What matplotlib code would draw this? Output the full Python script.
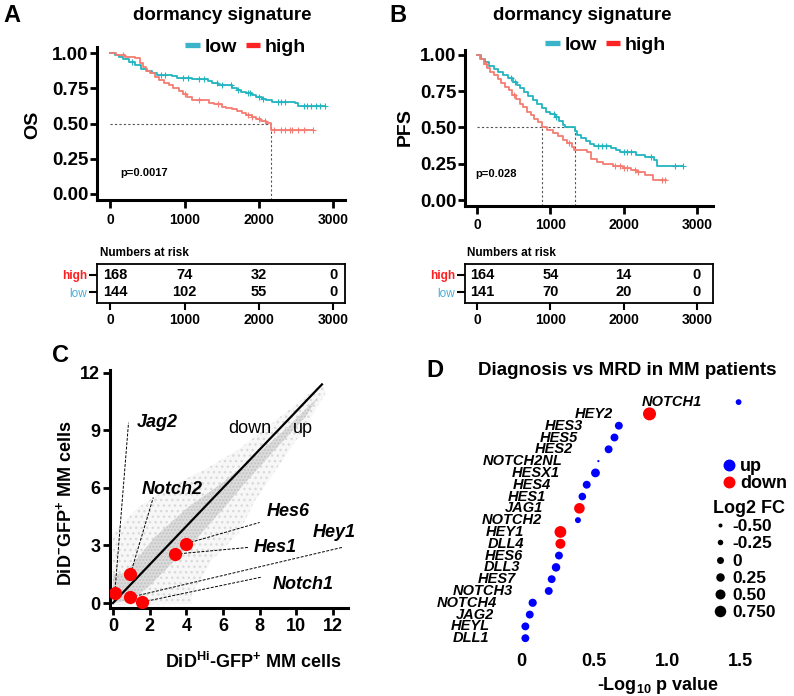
import numpy as np
import matplotlib
matplotlib.use("Agg")
import matplotlib.pyplot as plt
from matplotlib.lines import Line2D

plt.rcParams['font.family'] = ['Liberation Sans', 'DejaVu Sans']
plt.rcParams['font.weight'] = 'bold'
plt.rcParams['mathtext.fontset'] = 'custom'
plt.rcParams['mathtext.rm'] = 'Liberation Sans:bold'
plt.rcParams['mathtext.bf'] = 'Liberation Sans:bold'
plt.rcParams['hatch.linewidth'] = 1.0

# ---- panel A: OS Kaplan-Meier (days) ----
os_low_t = [0, 60, 120, 180, 250, 330, 420, 500, 560, 630, 830, 900, 1100, 1320, 1370, 1450,
            1550, 1640, 1700, 1760, 1820, 1900, 1960, 2040, 2100, 2180, 2480, 2530]
os_low_s = [1.0, 0.985, 0.97, 0.955, 0.935, 0.915, 0.89, 0.875, 0.86, 0.845, 0.835, 0.825, 0.815, 0.80,
            0.785, 0.775, 0.77, 0.755, 0.74, 0.725, 0.715, 0.70, 0.69, 0.675, 0.665, 0.655, 0.645, 0.625]
os_low_end = 2880
os_low_cens = [300, 680, 740, 980, 1050, 1200, 1260, 1430, 1500, 1620, 1720, 1850, 1880, 2000,
               2060, 2250, 2300, 2350, 2600, 2650, 2700, 2760, 2820, 2880]
os_high_t = [0, 80, 200, 330, 400, 440, 480, 540, 600, 660, 720, 790, 850, 920, 980, 1040, 1100,
             1330, 1400, 1500, 1560, 1640, 1700, 1770, 1830, 1900, 1960, 2030, 2100, 2160]
os_high_s = [1.0, 0.985, 0.975, 0.965, 0.93, 0.9, 0.875, 0.855, 0.83, 0.81, 0.79, 0.77, 0.75, 0.73,
             0.71, 0.69, 0.665, 0.645, 0.635, 0.62, 0.61, 0.60, 0.59, 0.575, 0.56, 0.545, 0.53,
             0.515, 0.505, 0.455]
os_high_end = 2730
os_high_cens = [180, 1000, 1200, 1450, 1850, 1900, 2000, 2080, 2200, 2300, 2350, 2420, 2450, 2520,
                2600, 2730]
os_medians = [2160]
os_risk_high = [168, 74, 32, 0]
os_risk_low = [144, 102, 55, 0]
os_p = "p=0.0017"

# ---- panel B: PFS Kaplan-Meier (days) ----
pfs_low_t = [0, 50, 110, 170, 230, 290, 350, 420, 490, 540, 590, 640, 700, 760, 820, 880, 940, 1000,
             1060, 1120, 1170, 1200, 1330, 1370, 1420, 1480, 1540, 1600, 1830, 1900, 1950, 2170,
             2290, 2420, 2450]
pfs_low_s = [1.0, 0.975, 0.95, 0.925, 0.905, 0.88, 0.86, 0.84, 0.815, 0.79, 0.77, 0.745, 0.72, 0.69,
             0.665, 0.635, 0.61, 0.59, 0.57, 0.545, 0.52, 0.5, 0.475, 0.45, 0.43, 0.405, 0.385,
             0.375, 0.36, 0.345, 0.33, 0.31, 0.295, 0.275, 0.235]
pfs_low_end = 2810
pfs_low_cens = [470, 520, 1050, 1080, 1650, 1700, 1760, 2000, 2050, 2100, 2380, 2700, 2810]
pfs_high_t = [0, 40, 90, 140, 180, 230, 280, 330, 380, 430, 480, 530, 580, 630, 680, 730, 780, 830,
              880, 960, 1040, 1100, 1170, 1230, 1290, 1320, 1500, 1560, 1640, 1720, 1850, 1990,
              2100, 2180, 2290, 2400]
pfs_high_s = [1.0, 0.97, 0.94, 0.91, 0.885, 0.86, 0.835, 0.81, 0.78, 0.755, 0.725, 0.695, 0.665,
              0.64, 0.61, 0.585, 0.56, 0.535, 0.5, 0.48, 0.465, 0.44, 0.415, 0.39, 0.365, 0.345,
              0.33, 0.28, 0.265, 0.25, 0.235, 0.22, 0.205, 0.19, 0.17, 0.14]
pfs_high_end = 2580
pfs_high_cens = [120, 500, 1250, 1880, 1950, 2010, 2040, 2150, 2200, 2530, 2560]
pfs_medians = [880, 1330]
pfs_risk_high = [164, 54, 14, 0]
pfs_risk_low = [141, 70, 20, 0]
pfs_p = "p=0.028"

risk_times = [0, 1000, 2000, 3000]

# ---- panel C: scatter of expression ----
# outline of the grey gene cloud (sparse part and dense band)
cloud_outer_x = [0, 0, 1.4, 3.2, 5.0, 6.85, 8.65, 10.5, 11.4, 11.6, 10.5, 9.0, 7.75, 6.85, 5.4,
                 4.3, 4.3, 0]
cloud_outer_y = [-0.1, 3.6, 5.0, 6.1, 6.95, 8.0, 9.35, 10.75, 11.45, 10.95, 9.2, 7.1, 5.35, 3.65,
                 2.25, 0.5, -0.05, -0.1]
cloud_core_x = [0, 0, 0.65, 2.3, 4.1, 5.95, 7.75, 9.55, 11.2, 10.5, 8.65, 7.2, 5.95, 4.65, 3.2,
                1.95, 1.0, 0]
cloud_core_y = [0, 1.5, 1.55, 3.45, 5.0, 6.25, 7.65, 9.2, 10.75, 9.7, 7.8, 6.25, 4.85, 3.45, 2.05,
                0.85, 0.15, 0]
c_genes = ["Jag2", "Notch2", "Hes6", "Hes1", "Hey1", "Notch1"]
c_dih = [0.1, 0.95, 4.0, 3.4, 0.95, 1.6]
c_dineg = [0.5, 1.5, 3.1, 2.55, 0.3, 0.05]
c_leader_end = [(0.85, 9.4), (2.2, 5.5), (8.0, 4.2), (7.4, 2.9), (12.5, 2.9), (8.1, 1.35)]
c_label_pos = [(1.3, 9.4), (1.55, 5.9), (8.4, 4.75), (7.65, 2.9), (10.9, 3.7), (8.7, 0.95)]

# ---- panel D: Diagnosis vs MRD ----
d_genes = ["NOTCH1", "HEY2", "HES3", "HES5", "HES2", "NOTCH2NL", "HESX1", "HES4", "HES1", "JAG1",
           "NOTCH2", "HEY1", "DLL4", "HES6", "DLL3", "HES7", "NOTCH3", "NOTCH4", "JAG2", "HEYL",
           "DLL1"]
d_logp = [1.49, 0.88, 0.67, 0.64, 0.60, 0.53, 0.51, 0.45, 0.42, 0.40, 0.39, 0.27, 0.27, 0.26,
          0.24, 0.21, 0.19, 0.08, 0.06, 0.03, 0.03]
d_fc = [-0.2, 1.0, 0.15, 0.15, 0.15, -0.8, 0.3, 0.15, 0.1, 0.6, -0.17, 0.8, 0.5, 0.15, 0.25, 0.15,
        0.15, 0.2, 0.15, 0.15, 0.15]
d_dir = ["up", "down", "up", "up", "up", "up", "up", "up", "up", "down", "up", "down", "down", "up",
         "up", "up", "up", "up", "up", "up", "up"]
fc_legend = [-0.5, -0.25, 0, 0.25, 0.5, 0.75]
fc_legend_labels = ["-0.50", "-0.25", "0", "0.25", "0.50", "0.750"]

TEAL = '#22b5bf'
SALMON = '#f47c72'
TEAL_KEY = '#3bb3c9'
RED_KEY = '#ff2424'

W, H = 794, 696
fig = plt.figure(figsize=(W / 100, H / 100), dpi=100)


def rect(l, t, r, b):
    return [l / W, 1 - b / H, (r - l) / W, (b - t) / H]


def fpos(x, y):
    return x / W, 1 - y / H


def step_value(t, s, when):
    idx = np.searchsorted(t, when, side='right') - 1
    return np.asarray(s)[idx]


def km_panel(box, xlim, ylim, curves, medians, ylabel, ylabel_xy, ptext, p_xy):
    ax = fig.add_axes(rect(*box))
    for t, s, end, cens, color in curves:
        ax.step(list(t) + [end], list(s) + [s[-1]], where='post', color=color, lw=1.3, zorder=3)
        ax.plot(cens, step_value(t, s, cens), ls='none', marker='+', ms=4, mew=0.8,
                color=color, zorder=3)
    ax.plot([0, max(medians)], [0.5, 0.5], ls=(0, (2, 2)), color='#555555', lw=0.8, zorder=2)
    for m in medians:
        ax.plot([m, m], [ylim[0], 0.5], ls=(0, (2, 2)), color='#555555', lw=0.8, zorder=2)
    ax.set_xlim(*xlim)
    ax.set_ylim(*ylim)
    ax.set_yticks([0, 0.25, 0.5, 0.75, 1.0])
    ax.set_yticklabels(['0.00', '0.25', '0.50', '0.75', '1.00'])
    ax.set_xticks(risk_times)
    ax.spines[['top', 'right']].set_visible(False)
    for sp in ('left', 'bottom'):
        ax.spines[sp].set_linewidth(2.2)
    ax.tick_params(axis='y', labelsize=13.5, width=2, length=5, pad=1)
    ax.tick_params(axis='x', labelsize=10, width=2, length=6, pad=3)
    fig.text(*fpos(*ylabel_xy), ylabel, rotation=90, ha='center', va='center', fontsize=14,
             fontweight='bold')
    fig.text(*fpos(*p_xy), ptext, ha='left', va='center', fontsize=8, fontweight='bold')
    return ax


def risk_table(box, xlim, high, low, title_xy):
    ax = fig.add_axes(rect(*box))
    ax.set_xlim(*xlim)
    ax.set_ylim(-0.6, 1.6)
    for i, (h, l) in enumerate(zip(high, low)):
        ha = 'left' if i == 0 else 'center'
        dx = -5 if i == 0 else 0
        ax.annotate(str(h), (risk_times[i], 1), xytext=(dx, 0), textcoords='offset points',
                    ha=ha, va='center', fontsize=10.5, fontweight='bold')
        ax.annotate(str(l), (risk_times[i], 0), xytext=(dx, 0), textcoords='offset points',
                    ha=ha, va='center', fontsize=10.5, fontweight='bold')
    ax.set_xticks(risk_times)
    ax.set_yticks([1, 0])
    ax.set_yticklabels(['high', 'low'])
    labs = ax.get_yticklabels()
    labs[0].set_color('#ff1f1f')
    labs[1].set_color('#4aaed4')
    labs[1].set_fontweight('normal')
    for sp in ax.spines.values():
        sp.set_linewidth(1.3)
    ax.tick_params(axis='y', labelsize=8.5, width=1.5, length=6, pad=1)
    ax.tick_params(axis='x', labelsize=10, width=1.5, length=5, pad=2)
    fig.text(*fpos(*title_xy), "Numbers at risk", ha='left', va='center', fontsize=8.5,
             fontweight='bold')


def km_key(x, y):
    handles = [Line2D([], [], color=TEAL_KEY, lw=3.8, solid_capstyle='butt'),
               Line2D([], [], color=RED_KEY, lw=3.8, solid_capstyle='butt')]
    fig.legend(handles, ['low', 'high'], loc='center left', bbox_to_anchor=fpos(x, y), ncol=2,
               frameon=False, handlelength=0.75, handletextpad=0.25,
               columnspacing=0.45, borderpad=0, borderaxespad=0,
               prop={'weight': 'bold', 'size': 14})


# panel A
km_panel((97, 47, 345, 200), (-175, 3155), (-0.043, 1.043),
         [(os_low_t, os_low_s, os_low_end, os_low_cens, TEAL),
          (os_high_t, os_high_s, os_high_end, os_high_cens, SALMON)],
         os_medians, 'OS', (33, 125), os_p, (120, 173))
risk_table((97, 264, 345, 303), (-175, 3155), os_risk_high, os_risk_low, (100, 253))
km_key(185, 47)
fig.text(*fpos(222, 15), 'dormancy signature', ha='center', va='center', fontsize=13.5,
         fontweight='bold')
fig.text(*fpos(12, 15), 'A', ha='center', va='center', fontsize=17, fontweight='bold')

# panel B
km_panel((465, 50, 713, 206), (-164, 3219), (-0.041, 1.034),
         [(pfs_low_t, pfs_low_s, pfs_low_end, pfs_low_cens, TEAL),
          (pfs_high_t, pfs_high_s, pfs_high_end, pfs_high_cens, SALMON)],
         pfs_medians, 'PFS', (405, 127), pfs_p, (475, 174))
risk_table((465, 264, 713, 303), (-164, 3219), pfs_risk_high, pfs_risk_low, (467, 253))
km_key(545, 45)
fig.text(*fpos(582, 15), 'dormancy signature', ha='center', va='center', fontsize=13.5,
         fontweight='bold')
fig.text(*fpos(398, 15), 'B', ha='center', va='center', fontsize=17, fontweight='bold')

# panel C
axc = fig.add_axes(rect(110, 370, 348, 608))
axc.fill(cloud_outer_x, cloud_outer_y, facecolor='#f7f7f7', edgecolor='#dadada', lw=0,
         hatch='...', zorder=1)
axc.fill(cloud_core_x, cloud_core_y, facecolor='#dcdcdc', edgecolor='#c2c2c2', lw=0,
         hatch='.....', zorder=1)
axc.plot([0, 11.4], [0, 11.4], color='black', lw=1.6, zorder=2)
for (gx, gy), (ex, ey), (lx, ly), name in zip(zip(c_dih, c_dineg), c_leader_end, c_label_pos,
                                              c_genes):
    axc.plot([gx, ex], [gy, ey], ls=(0, (3, 1.5)), color='black', lw=0.7, zorder=3)
    axc.text(lx, ly, name, ha='left', va='center', fontsize=13, fontweight='bold',
             style='italic', zorder=5)
axc.plot(c_dih, c_dineg, ls='none', marker='o', ms=9.5, color='#ff0000', mec='none', zorder=4)
axc.text(6.3, 9.1, 'down', ha='left', va='center', fontsize=13, fontweight='normal')
axc.text(9.8, 9.1, 'up', ha='left', va='center', fontsize=13, fontweight='normal')
axc.set_xlim(-0.16, 12.82)
axc.set_ylim(-0.26, 12.15)
axc.set_xticks([0, 2, 4, 6, 8, 10, 12])
axc.set_yticks([0, 3, 6, 9, 12])
axc.spines[['top', 'right']].set_visible(False)
for sp in ('left', 'bottom'):
    axc.spines[sp].set_linewidth(2.2)
axc.tick_params(labelsize=13, width=2, length=5, pad=2)
fig.text(*fpos(65, 503), r'DiD$^{-}$GFP$^{+}$ MM cells', rotation=90, ha='center', va='center',
         fontsize=13, fontweight='bold')
fig.text(*fpos(253, 662), r'DiD$^{\mathrm{Hi}}$-GFP$^{+}$ MM cells', ha='center', va='center',
         fontsize=13, fontweight='bold')
fig.text(*fpos(60, 355), 'C', ha='center', va='center', fontsize=17, fontweight='bold')

# panel D
axd = fig.add_axes(rect(430, 395, 790, 650))
rows = np.arange(len(d_genes))[::-1]


def fc_size(fc):
    return (0.72 * (7 + 6 * np.asarray(fc))) ** 2


dir_color = {'up': '#0000ff', 'down': '#ff0000'}
axd.scatter(d_logp, rows, s=fc_size(d_fc), c=[dir_color[d] for d in d_dir], edgecolors='none',
            zorder=3)
for xv, yv, name in zip(d_logp, rows, d_genes):
    axd.annotate(name, (xv, yv), xytext=(-26, 0), textcoords='offset points', ha='right',
                 va='center', fontsize=10.5, fontweight='bold', style='italic')
axd.set_xlim(-0.623, 1.842)
axd.set_ylim(-1.0, 20.6)
axd.set_xticks([0, 0.5, 1.0, 1.5])
axd.set_xticklabels(['0', '0.5', '1.0', '1.5'])
axd.set_yticks([])
for sp in axd.spines.values():
    sp.set_visible(False)
axd.tick_params(axis='x', labelsize=13, length=0, pad=2)
fig.text(*fpos(658, 685), r'-Log$_{10}$ p value', ha='center', va='center', fontsize=13,
         fontweight='bold')
fig.text(*fpos(627, 370), 'Diagnosis vs MRD in MM patients', ha='center', va='center',
         fontsize=13.5, fontweight='bold')
fig.text(*fpos(435, 370), 'D', ha='center', va='center', fontsize=17, fontweight='bold')

dir_handles = [Line2D([], [], ls='none', marker='o', ms=8.6, color=dir_color[k], mec='none')
               for k in ('up', 'down')]
leg1 = axd.legend(dir_handles, ['up', 'down'], loc='upper left', bbox_to_anchor=fpos(722, 458),
                  bbox_transform=fig.transFigure, frameon=False, handlelength=0.8,
                  handletextpad=0.2, labelspacing=0.0, borderpad=0, borderaxespad=0,
                  prop={'weight': 'bold', 'size': 13})
axd.add_artist(leg1)
size_handles = [Line2D([], [], ls='none', marker='o', ms=np.sqrt(fc_size(v)), color='black',
                       mec='none') for v in fc_legend]
leg2 = axd.legend(size_handles, fc_legend_labels, title='Log2 FC', loc='upper left',
                  bbox_to_anchor=fpos(713, 500), bbox_transform=fig.transFigure, frameon=False,
                  handlelength=0.8, handletextpad=0.3, labelspacing=0.12, borderpad=0,
                  borderaxespad=0, alignment='left',
                  prop={'weight': 'bold', 'size': 12.5},
                  title_fontproperties={'weight': 'bold', 'size': 13})

fig.savefig('out.png', dpi=100)
